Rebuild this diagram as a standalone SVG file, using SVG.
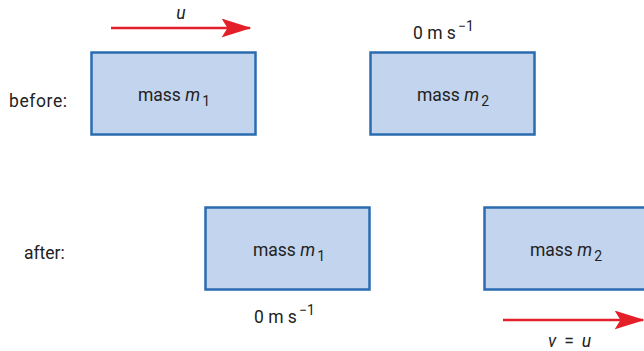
<svg xmlns="http://www.w3.org/2000/svg" width="644" height="351" viewBox="0 0 644 351">
<style>
text{font-family:Roboto,"Liberation Sans",sans-serif;font-size:17.5px;fill:#222}
.box{fill:#c3d4ee;stroke:#2a6cb0;stroke-width:2.5}
.arr{stroke:#e3202a;stroke-width:2.5;fill:none}
.it{font-style:italic}
.sub{font-size:14px}
</style>
<defs>
<marker id="ah" viewBox="0 0 10 10" refX="9.5" refY="5" markerWidth="30" markerHeight="19" markerUnits="userSpaceOnUse" orient="auto" preserveAspectRatio="none">
<path d="M0,0 L10,5 L0,10 L2,5 Z" fill="#e3202a"/>
</marker>
</defs>
<rect width="644" height="351" fill="#fff"/>
<text x="9" y="107" textLength="58">before:</text>
<text x="24" y="259">after:</text>
<g id="m1-before">
<rect class="box" x="91.5" y="52.5" width="164" height="82"/>
<text x="174" y="101" text-anchor="middle">mass <tspan class="it">m</tspan><tspan class="sub" dx="2" dy="5">1</tspan></text>
</g>
<g id="m2-before">
<rect class="box" x="370.5" y="52.5" width="164" height="82"/>
<text x="453" y="101" text-anchor="middle">mass <tspan class="it">m</tspan><tspan class="sub" dx="2" dy="5">2</tspan></text>
</g>
<g id="m1-after">
<rect class="box" x="205.5" y="207.5" width="164" height="82"/>
<text x="289" y="256" text-anchor="middle">mass <tspan class="it">m</tspan><tspan class="sub" dx="2" dy="5">1</tspan></text>
</g>
<g id="m2-after">
<rect class="box" x="484.5" y="207.5" width="164" height="82"/>
<text x="566" y="256" text-anchor="middle">mass <tspan class="it">m</tspan><tspan class="sub" dx="2" dy="5">2</tspan></text>
</g>
<g id="connectors">
<line class="arr" x1="111" y1="28" x2="250" y2="28" marker-end="url(#ah)"/>
<line class="arr" x1="503" y1="320" x2="643" y2="320" marker-end="url(#ah)"/>
</g>
<text class="it" x="181" y="19" text-anchor="middle">u</text>
<text x="413" y="39">0 m s<tspan class="sub" dx="2" dy="-8">−1</tspan></text>
<text x="254" y="323">0 m s<tspan class="sub" dx="2" dy="-8">−1</tspan></text>
<text x="548" y="347"><tspan class="it">v</tspan><tspan dx="8">=</tspan><tspan class="it" dx="8">u</tspan></text>
</svg>
